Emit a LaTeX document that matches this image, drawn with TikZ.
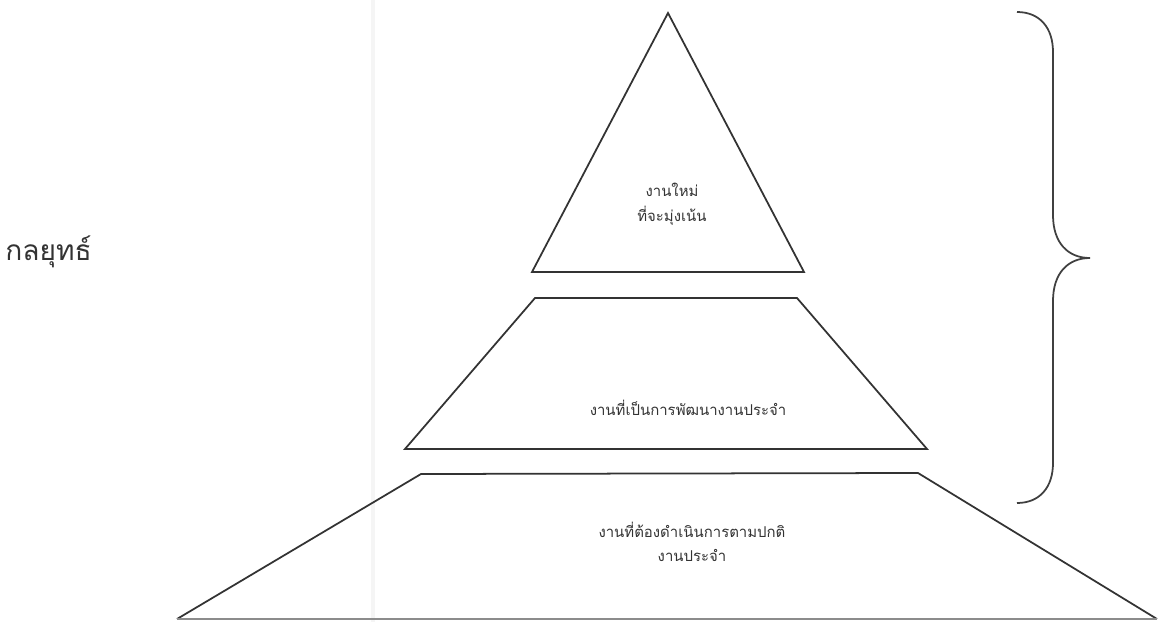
\documentclass[tikz,border=0pt]{standalone}
\usepackage{fontspec}
\newfontfamily\thaifont[Script=Thai]{Loma}
\usepackage{tikz}
\usetikzlibrary{calc}

\tikzset{
    tier/.style={draw=black!80, line width=1pt, line join=miter},
    tierlabel/.style={font=\thaifont\fontsize{8.5}{14}\selectfont, text=black!80, align=center, inner sep=0pt},
}

\begin{document}
\begin{tikzpicture}[x=0.02cm, y=-0.02cm]
    \useasboundingbox (0,0) rectangle (1161,622);
    % faint page edge of the scan
    \fill[black!4] (371,0) rectangle (375,622);

    % three tiers
    \draw[tier] (668,13) -- (804,272) -- (532,272) -- cycle;
    \draw[tier] (535,298) -- (797,298) -- (927,449) -- (405,449) -- cycle;
    \draw[tier] (177,619) -- (421,474) -- (918,473) -- (1157,619);
    \draw[draw=black!45, line width=1pt] (177,619) -- (1157,619);

    \node[tierlabel] (top) at (672,204) {งานใหม่\\ที่จะมุ่งเน้น};
    \node[tierlabel] (mid) at (688,408) {งานที่เป็นการพัฒนางานประจำ};
    \node[tierlabel] (low) at (692,542) {งานที่ต้องดำเนินการตามปกติ\\งานประจำ};

    % brace over the upper tiers
    \draw[draw=black!75, line width=1pt]
        (1017,12) .. controls (1040,12) and (1053,28) .. (1053,52)
        -- (1053,215) .. controls (1053,243) and (1068,258) .. (1090,258)
        .. controls (1068,258) and (1053,273) .. (1053,301)
        -- (1053,463) .. controls (1053,487) and (1040,503) .. (1017,503);
    \node[font=\thaifont\fontsize{16}{18}\selectfont, text=black!80, anchor=west, inner sep=0pt] (strategy) at (5,252) {กลยุทธ์};
\end{tikzpicture}
\end{document}
